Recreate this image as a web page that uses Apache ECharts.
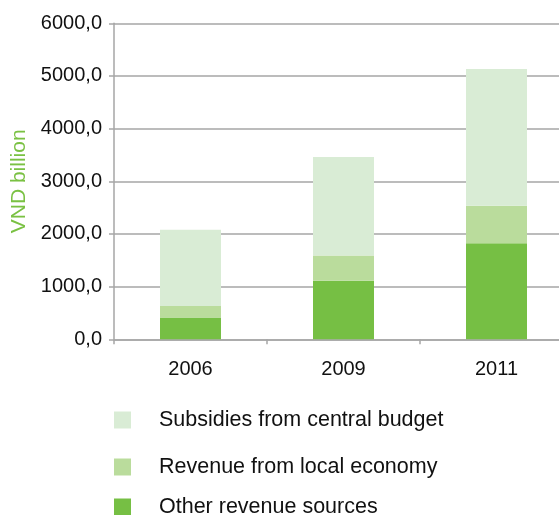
<!DOCTYPE html>
<html>
<head>
<meta charset="utf-8">
<script src="https://cdn.jsdelivr.net/npm/echarts@6/dist/echarts.min.js"></script>
<style>
  html, body { margin: 0; padding: 0; background: #ffffff; }
  #chart { width: 559px; height: 515px; }
</style>
</head>
<body>
<div id="chart"></div>
<script>
// Years on the category axis
const years = ['2006', '2009', '2011'];

// Revenue components (VND billion), stacked bottom to top
const otherSources = [415, 1110, 1825];
const localEconomy = [215, 480, 710];
const centralSubsidies = [1450, 1870, 2595];

// Value axis range
const yMin = 0;
const yMax = 6000;
const yStep = 1000;

const seriesNames = ['Subsidies from central budget', 'Revenue from local economy', 'Other revenue sources'];
const colors = {
  subsidies: '#d9ecd5',
  local: '#badc9c',
  other: '#76bf44'
};

const FONT = 'Liberation Sans, Arial, sans-serif';
const chart = echarts.init(document.getElementById('chart'), null, { renderer: 'canvas' });

function legendRow(name, top) {
  return {
    data: [name],
    left: 114,
    top: top,
    orient: 'vertical',
    itemWidth: 17,
    itemHeight: 17,
    icon: 'rect',
    selectedMode: false,
    padding: 0,
    textStyle: {
      fontFamily: FONT,
      fontSize: 21.5,
      color: '#111111',
      padding: [0, 0, 0, 23]
    }
  };
}

chart.setOption({
  animation: false,
  backgroundColor: '#ffffff',
  grid: {
    left: 114, top: 23.3, width: 459, bottom: 175.7,
    containLabel: false,
    outerBoundsMode: 'none'
  },
  legend: [
    legendRow(seriesNames[0], 409),
    legendRow(seriesNames[1], 456),
    legendRow(seriesNames[2], 496)
  ],
  xAxis: {
    type: 'category',
    data: years,
    boundaryGap: true,
    axisLine: { lineStyle: { color: '#a6a6a6', width: 1.5 } },
    axisTick: { show: true, length: 5, lineStyle: { color: '#a6a6a6', width: 1.5 } },
    axisLabel: { fontFamily: FONT, fontSize: 20, color: '#111111', margin: 20 }
  },
  yAxis: {
    type: 'value',
    min: yMin,
    max: yMax,
    interval: yStep,
    name: 'VND billion',
    nameLocation: 'middle',
    nameRotate: 90,
    nameGap: 81,
    nameTextStyle: { fontFamily: FONT, fontSize: 21, color: '#7ac143' },
    axisLine: { show: true, lineStyle: { color: '#a6a6a6', width: 1.5 } },
    axisTick: { show: true, length: 5, lineStyle: { color: '#a6a6a6', width: 1.5 } },
    splitLine: { show: true, lineStyle: { color: '#a6a6a6', width: 1.5 } },
    axisLabel: {
      fontFamily: FONT,
      fontSize: 20,
      color: '#111111',
      margin: 12,
      formatter: v => v.toFixed(1).replace('.', ',')
    }
  },
  series: [
    {
      name: seriesNames[2], type: 'bar', stack: 'total', data: otherSources,
      barWidth: 61, itemStyle: { color: colors.other }
    },
    {
      name: seriesNames[1], type: 'bar', stack: 'total', data: localEconomy,
      barWidth: 61, itemStyle: { color: colors.local }
    },
    {
      name: seriesNames[0], type: 'bar', stack: 'total', data: centralSubsidies,
      barWidth: 61, itemStyle: { color: colors.subsidies }
    }
  ]
});
</script>
</body>
</html>
